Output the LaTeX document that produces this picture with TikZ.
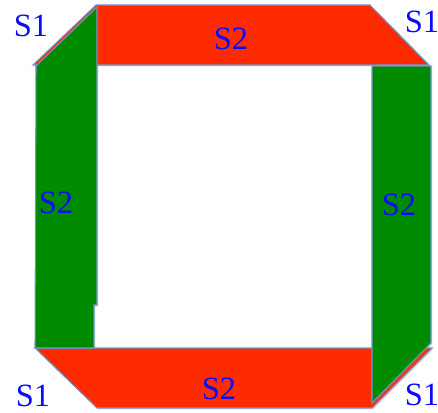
\documentclass[tikz,border=0pt]{standalone}
\usepackage{fontspec}
\setmainfont{Liberation Serif}
\usepackage{xcolor}
\usepackage{tikz}
\usetikzlibrary{shadows}
\definecolor{rojo}{HTML}{FF2B00}
\definecolor{verde}{HTML}{008A00}
\definecolor{borde}{HTML}{6F97CF}
\definecolor{azul}{HTML}{0A0AFF}
\tikzset{
  every picture/.style={x=0.02cm, y=-0.02cm},
  pieza/.style={draw=borde, line width=0.6pt, line join=miter,
                drop shadow={shadow xshift=0.8pt, shadow yshift=-0.8pt, opacity=0.25}},
  barrar/.style={pieza, fill=rojo},
  barrav/.style={pieza, fill=verde},
  etq/.style={text=azul, inner sep=0pt, font=\fontsize{18.5}{18.5}\selectfont},
}
\begin{document}
\begin{tikzpicture}
  \useasboundingbox (0,0) rectangle (438,412);
  % bars
  \fill[barrar] (33,65) -- (96,5) -- (370,5) -- (429,65) -- cycle;
  \fill[barrar] (35,348) -- (432,348) -- (372,408) -- (97,408) -- cycle;
  \fill[barrav] (36,66) -- (97,7) -- (97,305) -- (94,305) -- (94,348) -- (35,348) -- cycle;
  \fill[barrav] (372,66) -- (431,66) -- (431,343) -- (372,403) -- cycle;
  % labels
  \node[etq] (s2n) at (231,39) {S2};
  \node[etq] (s2o) at (56,203) {S2};
  \node[etq] (s2e) at (399,205) {S2};
  \node[etq] (s2s) at (219,389) {S2};
  \node[etq] (s1no) at (31,26) {S1};
  \node[etq] (s1ne) at (422,22) {S1};
  \node[etq] (s1so) at (33,396) {S1};
  \node[etq] (s1se) at (422,395) {S1};
\end{tikzpicture}
\end{document}
